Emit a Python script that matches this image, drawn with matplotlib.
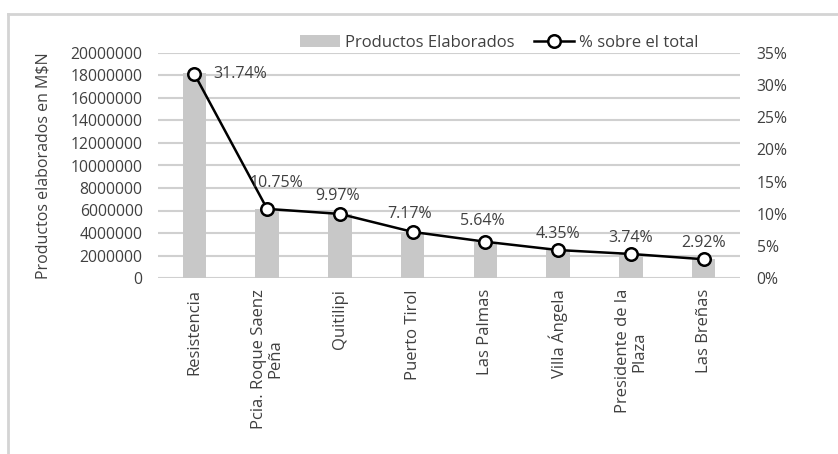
import matplotlib.pyplot as plt
from matplotlib.lines import Line2D
from matplotlib.patches import Patch
import numpy as np

plt.rcParams["font.family"] = ["Open Sans", "DejaVu Sans"]

localidades = [
    "Resistencia",
    "Pcia. Roque Saenz\nPeña",
    "Quitilipi",
    "Puerto Tirol",
    "Las Palmas",
    "Villa Ángela",
    "Presidente de la\nPlaza",
    "Las Breñas",
]
productos = [18200000, 6165000, 5717000, 4111000, 3234000, 2494000, 2145000, 1674000]
porcentaje = [31.74, 10.75, 9.97, 7.17, 5.64, 4.35, 3.74, 2.92]

# label offsets (points) for the percentage annotations
label_offsets = [(33, 0), (7, 13), (-2, 7), (-2, 7), (-2, 9), (0, 6), (0, 6), (0, 6)]

text_color = "#404040"
bar_color = "#c8c8c8"
grid_color = "#d0d0d0"

fig = plt.figure(figsize=(8.38, 4.54), dpi=100)
ax = fig.add_axes([158 / 838, 1 - 278 / 454, (740 - 158) / 838, (278 - 53) / 454])
ax2 = ax.twinx()

x = np.arange(len(localidades))
ax.bar(x, productos, width=0.32, color=bar_color, zorder=2)
ax.set_ylim(0, 20000000)
ax.set_yticks(np.arange(0, 20000001, 2000000))
ax.set_yticklabels([f"{int(v)}" for v in np.arange(0, 20000001, 2000000)])
ax.set_xlim(-0.5, len(localidades) - 0.5)
ax.set_xticks(x)
ax.set_xticklabels(localidades, rotation=90, ha="center", va="top", linespacing=1.0)
ax.yaxis.grid(True, color=grid_color, linewidth=1.5, zorder=0)
ax.set_axisbelow(True)
ax.set_ylabel("Productos elaborados en M$N", fontsize=11.5, color=text_color, labelpad=14)

ax2.plot(x, porcentaje, color="black", linewidth=1.8, marker="o", markersize=9,
         markerfacecolor="white", markeredgecolor="black", markeredgewidth=1.8, zorder=3)
ax2.set_ylim(0, 35)
ax2.set_yticks(np.arange(0, 36, 5))
ax2.set_yticklabels([f"{v}%" for v in range(0, 36, 5)])

for xi, p, off in zip(x, porcentaje, label_offsets):
    ax2.annotate(f"{p:.2f}%", (xi, p), xytext=off, textcoords="offset points",
                 ha="center", va="bottom" if off[1] > 0 else "center",
                 fontsize=11.5, color=text_color)

for a in (ax, ax2):
    for s in a.spines.values():
        s.set_visible(False)
    a.tick_params(length=0, labelsize=11.3, labelcolor=text_color)
ax.tick_params(axis="y", pad=11)
ax.tick_params(axis="x", pad=8, labelsize=12)
ax2.tick_params(axis="y", pad=12)

handles = [
    Patch(facecolor=bar_color, edgecolor="none"),
    Line2D([0], [0], color="black", linewidth=1.8, marker="o", markersize=9,
           markerfacecolor="white", markeredgewidth=1.8),
]
fig.legend(handles, ["Productos Elaborados", "% sobre el total"],
           loc="center", bbox_to_anchor=(499 / 838, 1 - 43 / 454), ncol=2,
           frameon=False, fontsize=12, handlelength=2.4, columnspacing=1.2,
           handletextpad=0.3, labelcolor=text_color)

# outer chart border (top and left edges)
fig.add_artist(Line2D([8 / 838, 1], [1 - 14 / 454, 1 - 14 / 454],
                      transform=fig.transFigure, color="#d4d4d4", linewidth=2))
fig.add_artist(Line2D([8 / 838, 8 / 838], [0, 1 - 14 / 454],
                      transform=fig.transFigure, color="#d4d4d4", linewidth=2))

fig.savefig("out.png", dpi=100)
